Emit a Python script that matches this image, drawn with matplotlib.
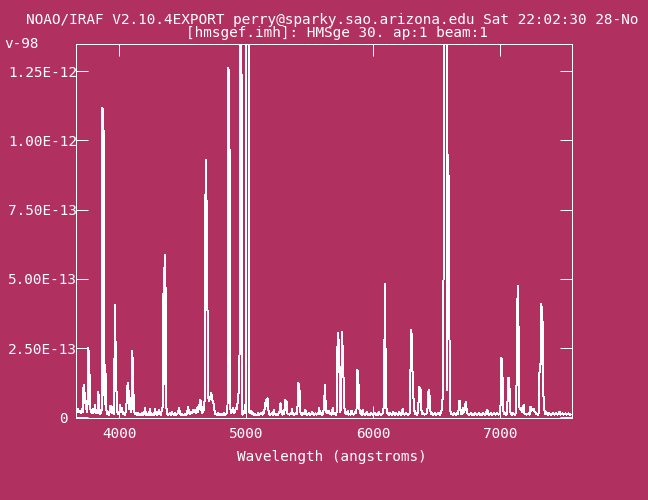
import matplotlib
matplotlib.use("Agg")
import matplotlib.pyplot as plt
from matplotlib.ticker import FixedLocator, FixedFormatter

# ---------------- text ----------------
header_line1 = "NOAO/IRAF V2.10.4EXPORT perry@sparky.sao.arizona.edu Sat 22:02:30 28-No"
header_wrap = "v-98"
header_line2 = "[hmsgef.imh]: HMSge 30. ap:1 beam:1"
x_label = "Wavelength (angstroms)"

# ---------------- ticks ----------------
x_ticks = [4000, 5000, 6000, 7000]
x_ticklabels = ["4000", "5000", "6000", "7000"]
y_ticks = [0.0, 2.5, 5.0, 7.5, 10.0, 12.5]          # in units of 1e-13
y_ticklabels = ["0 ", "2.50E-13", "5.00E-13", "7.50E-13", "1.00E-12", "1.25E-12"]

# ---------------- spectrum ----------------
wave = [
    3658, 3666, 3674, 3682, 3690, 3698, 3705, 3711, 3716, 3721,
    3725, 3729, 3735, 3742, 3748, 3755, 3763, 3768, 3775, 3782,
    3788, 3794, 3801, 3808, 3815, 3821, 3828, 3834, 3842, 3848,
    3856, 3862, 3867, 3875, 3883, 3889, 3897, 3905, 3913, 3920,
    3926, 3933, 3939, 3945, 3952, 3958, 3965, 3973, 3981, 3987,
    3993, 4000, 4005, 4012, 4020, 4028, 4036, 4044, 4050, 4058,
    4065, 4073, 4079, 4084, 4090, 4096, 4102, 4110, 4116, 4123,
    4131, 4139, 4147, 4155, 4162, 4170, 4178, 4186, 4194, 4202,
    4210, 4217, 4225, 4233, 4241, 4249, 4257, 4265, 4273, 4281,
    4288, 4296, 4304, 4312, 4320, 4328, 4336, 4342, 4349, 4355,
    4362, 4369, 4376, 4383, 4391, 4399, 4406, 4414, 4422, 4430,
    4438, 4446, 4454, 4462, 4470, 4478, 4485, 4493, 4501, 4509,
    4517, 4525, 4533, 4541, 4549, 4556, 4564, 4572, 4580, 4588,
    4596, 4604, 4614, 4620, 4625, 4632, 4639, 4644, 4650, 4655,
    4662, 4671, 4680, 4691, 4698, 4706, 4714, 4724, 4732, 4745,
    4752, 4760, 4768, 4776, 4784, 4792, 4800, 4808, 4816, 4824,
    4832, 4840, 4846, 4852, 4858, 4866, 4874, 4880, 4888, 4895,
    4903, 4911, 4920, 4928, 4935, 4944, 4951, 4958, 4964, 4970,
    4978, 4985, 4990, 4996, 5001, 5018, 5023, 5031, 5039, 5047,
    5055, 5063, 5071, 5079, 5087, 5095, 5103, 5111, 5119, 5127,
    5135, 5140, 5147, 5155, 5160, 5167, 5174, 5181, 5189, 5197,
    5205, 5210, 5216, 5224, 5232, 5240, 5248, 5256, 5263, 5269,
    5277, 5285, 5293, 5300, 5308, 5318, 5325, 5333, 5341, 5349,
    5355, 5360, 5367, 5375, 5383, 5391, 5398, 5403, 5410, 5418,
    5426, 5434, 5442, 5450, 5458, 5465, 5473, 5481, 5489, 5497,
    5505, 5513, 5521, 5529, 5537, 5545, 5553, 5561, 5568, 5575,
    5582, 5590, 5598, 5606, 5614, 5620, 5627, 5633, 5641, 5649,
    5657, 5665, 5673, 5681, 5689, 5697, 5705, 5711, 5717, 5725,
    5733, 5740, 5746, 5754, 5764, 5770, 5778, 5786, 5793, 5799,
    5806, 5814, 5822, 5830, 5838, 5846, 5854, 5861, 5868, 5875,
    5882, 5889, 5896, 5904, 5911, 5917, 5925, 5933, 5941, 5949,
    5957, 5965, 5973, 5981, 5989, 5997, 6005, 6013, 6021, 6029,
    6037, 6045, 6053, 6061, 6069, 6077, 6085, 6093, 6101, 6109,
    6117, 6125, 6133, 6141, 6149, 6158, 6165, 6173, 6181, 6189,
    6197, 6205, 6213, 6221, 6227, 6232, 6240, 6248, 6256, 6264,
    6272, 6280, 6290, 6298, 6303, 6308, 6312, 6317, 6324, 6331,
    6339, 6347, 6355, 6363, 6374, 6380, 6388, 6396, 6404, 6412,
    6420, 6428, 6434, 6442, 6449, 6456, 6463, 6471, 6479, 6487,
    6495, 6503, 6511, 6518, 6526, 6534, 6541, 6546, 6552, 6560,
    6568, 6576, 6581, 6592, 6597, 6604, 6612, 6620, 6628, 6636,
    6644, 6652, 6660, 6668, 6674, 6680, 6688, 6696, 6704, 6710,
    6716, 6723, 6729, 6737, 6745, 6753, 6761, 6769, 6777, 6785,
    6793, 6801, 6809, 6817, 6825, 6833, 6841, 6849, 6857, 6865,
    6873, 6881, 6889, 6899, 6907, 6915, 6923, 6931, 6939, 6947,
    6955, 6963, 6971, 6979, 6987, 6995, 7003, 7010, 7017, 7024,
    7032, 7040, 7048, 7056, 7064, 7072, 7080, 7088, 7096, 7104,
    7112, 7120, 7128, 7135, 7143, 7150, 7157, 7164, 7172, 7180,
    7186, 7192, 7200, 7208, 7216, 7224, 7232, 7238, 7246, 7252,
    7259, 7266, 7274, 7282, 7290, 7298, 7305, 7312, 7319, 7324,
    7331, 7336, 7341, 7348, 7356, 7364, 7372, 7380, 7388, 7396,
    7404, 7412, 7420, 7428, 7436, 7444, 7452, 7460, 7468, 7476,
    7484, 7492, 7500, 7508, 7516, 7524, 7532, 7540, 7548, 7555,
]

flux = [  # units of 1e-13
    0.45, 0.20, 0.30, 0.18, 0.22, 0.15, 0.30, 0.20, 1.05, 1.17,
    0.60, 0.88, 0.30, 0.60, 0.20, 2.50, 2.05, 0.45, 0.20, 0.25,
    0.15, 0.30, 0.18, 0.45, 0.15, 0.25, 0.15, 0.93, 0.35, 0.12,
    0.20, 0.30, 11.17, 10.34, 0.50, 1.90, 0.30, 0.12, 0.20, 0.10,
    0.40, 0.20, 0.40, 0.15, 0.30, 0.12, 4.06, 1.71, 0.30, 0.12,
    0.20, 0.10, 0.45, 0.20, 0.35, 0.12, 0.15, 0.10, 0.20, 0.60,
    1.24, 0.93, 0.30, 0.70, 0.20, 0.30, 2.40, 1.00, 0.25, 0.12,
    0.15, 0.08, 0.15, 0.10, 0.12, 0.08, 0.15, 0.10, 0.12, 0.33,
    0.10, 0.12, 0.08, 0.10, 0.30, 0.10, 0.12, 0.08, 0.10, 0.30,
    0.12, 0.10, 0.15, 0.27, 0.12, 0.10, 0.30, 0.40, 5.40, 1.20,
    5.87, 0.40, 0.15, 0.10, 0.12, 0.15, 0.10, 0.20, 0.12, 0.10,
    0.15, 0.10, 0.12, 0.15, 0.35, 0.12, 0.10, 0.12, 0.08, 0.10,
    0.12, 0.10, 0.12, 0.38, 0.15, 0.12, 0.20, 0.15, 0.27, 0.20,
    0.27, 0.15, 0.35, 0.20, 0.45, 0.30, 0.63, 0.35, 0.15, 0.38,
    0.20, 0.57, 9.30, 6.85, 0.81, 0.60, 0.69, 0.87, 0.63, 0.45,
    0.15, 0.12, 0.10, 0.15, 0.10, 0.12, 0.08, 0.12, 0.10, 0.15,
    0.10, 0.12, 0.15, 0.30, 12.60, 12.48, 0.35, 0.15, 0.20, 0.33,
    0.15, 0.20, 0.36, 0.30, 0.81, 0.93, 4.45, 35.0, 4.27, 0.10,
    0.15, 0.20, 0.45, 0.15, 40.0, 40.0, 0.20, 0.15, 0.24, 0.12,
    0.15, 0.10, 0.12, 0.08, 0.10, 0.15, 0.10, 0.12, 0.15, 0.10,
    0.20, 0.15, 0.39, 0.63, 0.42, 0.69, 0.27, 0.12, 0.10, 0.12,
    0.15, 0.10, 0.27, 0.12, 0.10, 0.12, 0.10, 0.15, 0.20, 0.51,
    0.27, 0.10, 0.12, 0.20, 0.63, 0.57, 0.15, 0.12, 0.10, 0.15,
    0.12, 0.30, 0.12, 0.10, 0.12, 0.15, 0.12, 0.30, 1.23, 1.13,
    0.20, 0.12, 0.10, 0.15, 0.12, 0.27, 0.12, 0.10, 0.12, 0.15,
    0.10, 0.12, 0.20, 0.12, 0.10, 0.15, 0.10, 0.15, 0.12, 0.33,
    0.12, 0.15, 0.10, 0.12, 0.50, 1.17, 0.27, 0.15, 0.22, 0.25,
    0.12, 0.15, 0.10, 0.33, 0.12, 0.15, 0.10, 0.15, 2.38, 3.05,
    2.10, 0.20, 0.30, 3.08, 2.00, 0.50, 0.15, 0.12, 0.15, 0.25,
    0.10, 0.12, 0.10, 0.25, 0.12, 0.10, 0.15, 0.20, 0.15, 1.71,
    1.62, 0.40, 0.15, 0.12, 0.10, 0.27, 0.12, 0.10, 0.12, 0.20,
    0.10, 0.12, 0.10, 0.15, 0.12, 0.10, 0.12, 0.15, 0.10, 0.12,
    0.10, 0.20, 0.12, 0.10, 0.12, 0.15, 0.45, 4.82, 0.45, 0.20,
    0.12, 0.10, 0.15, 0.12, 0.10, 0.21, 0.12, 0.10, 0.15, 0.12,
    0.10, 0.20, 0.12, 0.10, 0.15, 0.30, 0.12, 0.10, 0.15, 0.12,
    0.10, 0.12, 0.15, 3.16, 2.98, 2.26, 1.05, 0.75, 0.27, 0.12,
    0.15, 0.10, 0.30, 1.09, 0.99, 0.27, 0.12, 0.15, 0.10, 0.12,
    0.15, 0.30, 0.90, 1.00, 0.30, 0.12, 0.15, 0.10, 0.12, 0.15,
    0.10, 0.12, 0.15, 0.12, 0.10, 0.20, 0.30, 0.45, 3.18, 9.40,
    60.0, 60.0, 1.00, 9.47, 7.31, 0.39, 0.15, 0.12, 0.10, 0.15,
    0.12, 0.10, 0.15, 0.12, 0.30, 0.61, 0.30, 0.12, 0.15, 0.33,
    0.20, 0.30, 0.57, 0.27, 0.12, 0.10, 0.12, 0.15, 0.10, 0.12,
    0.10, 0.15, 0.12, 0.10, 0.12, 0.15, 0.10, 0.12, 0.10, 0.15,
    0.12, 0.10, 0.15, 0.27, 0.12, 0.10, 0.12, 0.15, 0.10, 0.12,
    0.15, 0.10, 0.12, 0.15, 0.10, 0.12, 0.30, 2.14, 2.01, 0.30,
    0.12, 0.15, 0.10, 0.15, 1.41, 1.41, 0.20, 0.12, 0.10, 0.15,
    0.12, 0.10, 0.30, 4.09, 4.75, 0.40, 0.30, 0.33, 0.20, 0.41,
    0.45, 0.15, 0.12, 0.10, 0.12, 0.15, 0.10, 0.37, 0.37, 0.25,
    0.30, 0.29, 0.20, 0.15, 0.12, 0.10, 0.15, 1.93, 1.93, 4.09,
    3.88, 3.28, 0.87, 0.30, 0.12, 0.21, 0.12, 0.10, 0.15, 0.12,
    0.10, 0.12, 0.15, 0.10, 0.12, 0.15, 0.10, 0.12, 0.20, 0.10,
    0.12, 0.15, 0.10, 0.12, 0.15, 0.10, 0.12, 0.15, 0.10, 0.12,
]

# ---------------- style ----------------
BG = "#B03060"
FG = "white"
FONT = "DejaVu Sans Mono"
FS = 10.4
LW = 0.72          # one pixel at 100 dpi
W, H = 648, 500

plt.rcParams["font.family"] = [FONT]

fig = plt.figure(figsize=(W / 100, H / 100), dpi=100, facecolor=BG)
left, right, top, bottom = 75.6, 571.5, 44.0, 418.0
ax = fig.add_axes([left / W, 1 - bottom / H, (right - left) / W, (bottom - top) / H],
                  facecolor=BG)

ax.plot(wave, flux, color=FG, lw=LW, antialiased=False)

ax.set_xlim(3655, 7563)
ax.set_ylim(-0.02, 13.48)

ax.xaxis.set_major_locator(FixedLocator(x_ticks))
ax.xaxis.set_major_formatter(FixedFormatter(x_ticklabels))
ax.yaxis.set_major_locator(FixedLocator(y_ticks))
ax.yaxis.set_major_formatter(FixedFormatter(y_ticklabels))

for s in ax.spines.values():
    s.set_color(FG)
    s.set_linewidth(LW)
    s.set_antialiased(False)

ax.tick_params(axis="both", which="major", direction="in", length=8.8, width=LW,
               color=FG, labelcolor=FG, labelsize=FS, top=True, right=True,
               labeltop=False, labelright=False)
ax.tick_params(axis="x", pad=6.8)
ax.tick_params(axis="y", pad=-1.2)
for t in ax.xaxis.get_ticklines() + ax.yaxis.get_ticklines():
    t.set_antialiased(False)

txt = dict(color=FG, family=FONT, fontsize=FS)
fig.text(26 / W, 1 - 24 / H, header_line1, ha="left", va="baseline", **txt)
fig.text(186 / W, 1 - 37 / H, header_line2, ha="left", va="baseline", **txt)
fig.text(4 / W, 1 - 48.3 / H, header_wrap, ha="left", va="baseline", **txt)
fig.text(332 / W, 1 - 461 / H, x_label, ha="center", va="baseline", **txt)

fig.savefig("out.png", dpi=100, facecolor=BG)
